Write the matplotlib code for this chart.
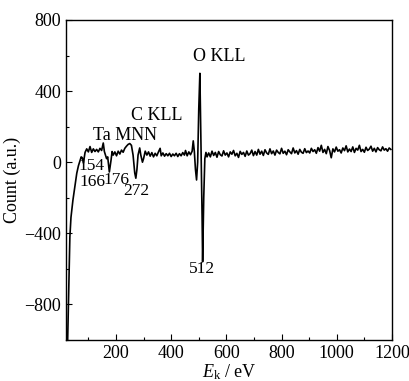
import matplotlib
matplotlib.use("Agg")
import matplotlib.pyplot as plt
from matplotlib.ticker import MultipleLocator

plt.rcParams['font.family'] = ['Liberation Serif', 'DejaVu Serif']
plt.rcParams['mathtext.fontset'] = 'custom'
plt.rcParams['mathtext.it'] = 'Liberation Serif:italic'
plt.rcParams['mathtext.rm'] = 'Liberation Serif'

# Low-energy region and peaks (eV, counts)
energy_low = [25, 27, 30, 33, 37, 44, 50, 58, 64, 70, 74, 78, 82, 88, 94,
              100, 106, 112, 118, 124, 130, 136, 142, 148, 154, 158, 162, 166, 170, 176,
              182, 186, 190, 196, 202, 208, 214, 220, 226, 232, 238, 244, 250, 256, 262,
              268, 272, 276, 280, 286, 290, 296, 300, 306, 312, 318, 324, 330, 336, 342,
              348, 354, 360, 364, 370, 376, 382, 388, 394, 400, 406, 412, 418, 424, 430,
              436, 442, 448, 452, 458, 464, 470, 476, 480, 484, 488, 492, 496, 500, 504,
              508, 512, 514, 518, 522, 526, 530, 536]
count_low = [-1000, -850, -600, -420, -310, -214, -150, -62, -20, 10, 30, 25, -5, 55, 75,
             58, 88, 55, 75, 60, 72, 58, 78, 66, 108, 60, 40, 20, 30, -55,
             10, 60, 40, 58, 36, 62, 46, 68, 56, 78, 90, 100, 105, 95, 40,
             -60, -90, -40, 40, 80, 40, 0, 20, 62, 40, 58, 34, 54, 30, 50,
             36, 58, 78, 36, 52, 34, 48, 36, 50, 32, 46, 36, 50, 32, 48,
             36, 54, 40, 66, 36, 58, 42, 62, 120, 60, -40, -100, 0, 300, 500,
             100, -300, -560, -200, 20, 55, 30, 52]

# High-energy baseline (6 eV steps from 542)
energy_high = list(range(542, 1201, 6))
count_high = [30, 62, 38, 55, 28, 60, 42, 35, 64, 40, 52, 30, 58, 45, 66, 36,
              50, 27, 61, 44, 55, 33, 63, 40, 48, 68, 37,
              60, 40, 72, 45, 62, 38, 70, 52, 44, 75, 48, 63, 40, 68, 55, 47,
              78, 50, 62, 42, 70, 58, 48, 80, 52, 65, 45, 72, 56, 50, 76, 54, 63,
              52, 78, 60, 70, 50, 82, 62, 95, 55, 72, 48, 88, 66, 25, 75, 58,
              85, 62, 70, 52, 80, 65, 92, 58, 74, 60, 86, 55, 78, 68, 95, 60,
              72, 56, 84, 66, 74, 90, 62, 78, 58, 82, 70, 64, 86, 68, 76, 62, 80, 72]

energy = energy_low + energy_high
count = count_low + count_high[:len(energy_high)]

fig = plt.figure(figsize=(4.1, 3.81), dpi=100)
ax = fig.add_axes([0.161, 0.1076, 0.795, 0.84])
ax.plot(energy, count, color='black', lw=1.2)

ax.set_xlim(19, 1200)
ax.set_ylim(-1000, 800)
ax.xaxis.set_major_locator(MultipleLocator(200))
ax.xaxis.set_minor_locator(MultipleLocator(100))
ax.yaxis.set_major_locator(MultipleLocator(400))
ax.yaxis.set_minor_locator(MultipleLocator(200))
ax.tick_params(which='both', direction='in', labelsize=13, top=False, right=False)
ax.tick_params(which='major', length=4, width=0.8)
ax.tick_params(which='minor', length=2.5, width=0.8)
for s in ax.spines.values():
    s.set_linewidth(1.0)

yt = [-800, -400, 0, 400, 800]
ax.set_yticks(yt)
ax.set_yticklabels(['\u2212800', '\u2212400', '0', '400', '800'])

ax.set_xlabel(r'$E_\mathrm{k}$ / eV', fontsize=13, labelpad=0)
ax.set_ylabel('Count (a.u.)', fontsize=13, labelpad=2)

ax.text(573, 592, 'O KLL', fontsize=13, ha='center', va='center')
ax.text(349, 265, 'C KLL', fontsize=13, ha='center', va='center')
ax.text(233, 152, 'Ta MNN', fontsize=13, ha='center', va='center')
ax.text(113, -23, '154', fontsize=12.5, ha='center', va='center')
ax.text(113, -112, '166', fontsize=12.5, ha='center', va='center')
ax.text(203, -101, '176', fontsize=12.5, ha='center', va='center')
ax.text(275, -163, '272', fontsize=12.5, ha='center', va='center')
ax.text(511, -598, '512', fontsize=12.5, ha='center', va='center')

fig.savefig('out.png', dpi=100)
